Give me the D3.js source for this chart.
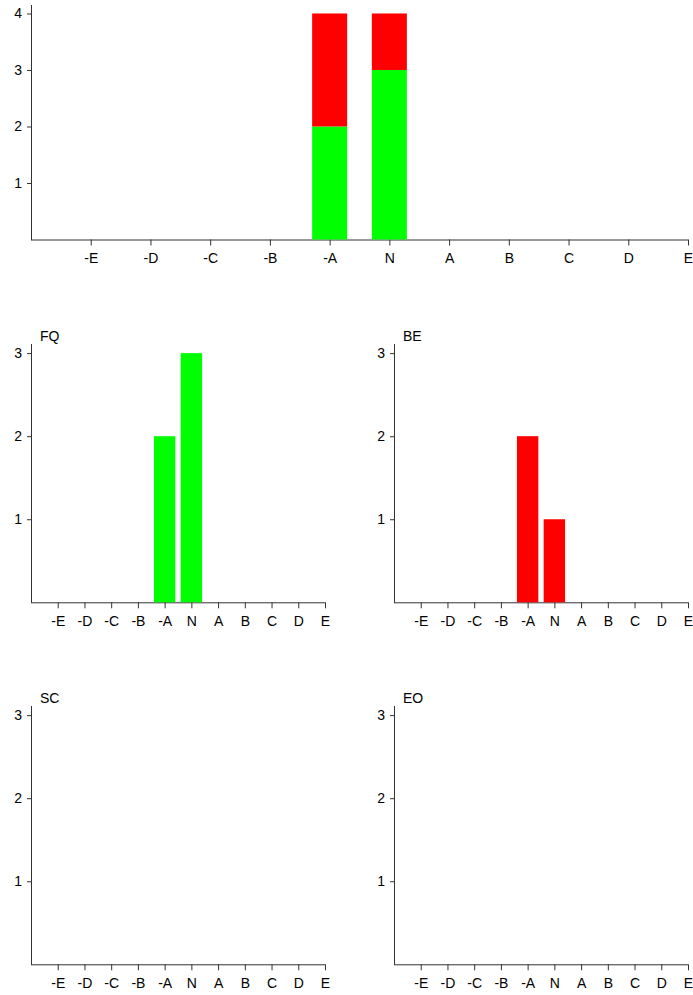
<!DOCTYPE html>
<html>
<head>
<meta charset="utf-8">
<script src="https://cdn.jsdelivr.net/npm/d3@7"></script>
<style>
  html, body { margin: 0; padding: 0; background: #fff; }
  svg { display: block; font-family: "Liberation Sans", Arial, sans-serif; }
  svg text { font-size: 14px; fill: #000; }
</style>
</head>
<body>
<svg id="chart" width="693" height="995"></svg>
<script>
// Rating categories along the x axis
const categories = ["-E", "-D", "-C", "-B", "-A", "N", "A", "B", "C", "D", "E"];

// Counts per category for each group
const fqValues = [0, 0, 0, 0, 2, 3, 0, 0, 0, 0, 0];
const beValues = [0, 0, 0, 0, 2, 1, 0, 0, 0, 0, 0];
const scValues = [0, 0, 0, 0, 0, 0, 0, 0, 0, 0, 0];
const eoValues = [0, 0, 0, 0, 0, 0, 0, 0, 0, 0, 0];

// Stacked summary: green layer then red layer
const stackGreen = fqValues;
const stackRed = beValues;

const topTicks = [1, 2, 3, 4];
const smallTicks = [1, 2, 3];

const GREEN = "#00ff00";
const RED = "#ff0000";
const AXIS = "#333";

const svg = d3.select("#chart");

// Builds one panel's scales and axes; returns the scales for drawing bars
function panel(opts) {
  const g = svg.append("g");
  const step = (opts.x1 - opts.x0) / categories.length;
  const x = d3.scalePoint().domain(categories).range([opts.x0 + step, opts.x1]);
  const y = d3.scaleLinear().domain([0, opts.yMax]).range([opts.y0, opts.yTop]);

  // x axis
  const xa = g.append("g")
    .attr("transform", `translate(0,${opts.y0})`)
    .call(d3.axisBottom(x).tickSize(6).tickSizeOuter(0));
  xa.attr("font-family", null).attr("font-size", null);
  xa.select(".domain").remove();
  xa.selectAll("line").attr("stroke", AXIS);
  xa.selectAll("text").attr("y", 14).attr("dy", "0.71em");
  g.append("line")
    .attr("x1", opts.x0).attr("x2", opts.x1)
    .attr("y1", opts.y0 + 0.5).attr("y2", opts.y0 + 0.5)
    .attr("stroke", AXIS);

  // y axis
  const ya = g.append("g")
    .attr("transform", `translate(${opts.x0},0)`)
    .call(d3.axisLeft(y).tickValues(opts.ticks).tickFormat(d3.format("d"))
      .tickSize(4).tickPadding(5).tickSizeOuter(0));
  ya.attr("font-family", null).attr("font-size", null);
  ya.select(".domain").remove();
  ya.selectAll("line").attr("stroke", AXIS);
  g.append("line")
    .attr("x1", opts.x0 + 0.5).attr("x2", opts.x0 + 0.5)
    .attr("y1", y(opts.yMax)).attr("y2", opts.y0 + 0.5)
    .attr("stroke", AXIS);

  if (opts.title) {
    g.append("text")
      .attr("x", opts.x0 + 9).attr("y", opts.titleY)
      .text(opts.title);
  }
  return { g, x, y, step };
}

function bars(p, values, color, widthFrac, base) {
  const w = p.step * widthFrac;
  p.g.append("g").selectAll("rect")
    .data(categories.map((c, i) => ({ c, v: values[i], b: base ? base[i] : 0 }))
      .filter(d => d.v > 0))
    .join("rect")
    .attr("x", d => p.x(d.c) - w / 2)
    .attr("width", w)
    .attr("y", d => p.y(d.b + d.v))
    .attr("height", d => p.y(d.b) - p.y(d.b + d.v))
    .attr("fill", color);
}

// Top: stacked totals
const summary = panel({ x0: 31, x1: 688, y0: 239.5, yTop: 5, yMax: 4.15, ticks: topTicks });
bars(summary, stackGreen, GREEN, 0.586, null);
bars(summary, stackRed, RED, 0.586, stackGreen);

// Small multiples
const fqPanel = panel({ x0: 31, x1: 325, y0: 602.3, yTop: 344, yMax: 3.11, ticks: smallTicks, title: "FQ", titleY: 341 });
bars(fqPanel, fqValues, GREEN, 0.8, null);

const bePanel = panel({ x0: 394, x1: 688, y0: 602.3, yTop: 344, yMax: 3.11, ticks: smallTicks, title: "BE", titleY: 341 });
bars(bePanel, beValues, RED, 0.8, null);

const scPanel = panel({ x0: 31, x1: 325, y0: 964.3, yTop: 706, yMax: 3.11, ticks: smallTicks, title: "SC", titleY: 703 });
bars(scPanel, scValues, GREEN, 0.8, null);

const eoPanel = panel({ x0: 394, x1: 688, y0: 964.3, yTop: 706, yMax: 3.11, ticks: smallTicks, title: "EO", titleY: 703 });
bars(eoPanel, eoValues, RED, 0.8, null);
</script>
</body>
</html>
